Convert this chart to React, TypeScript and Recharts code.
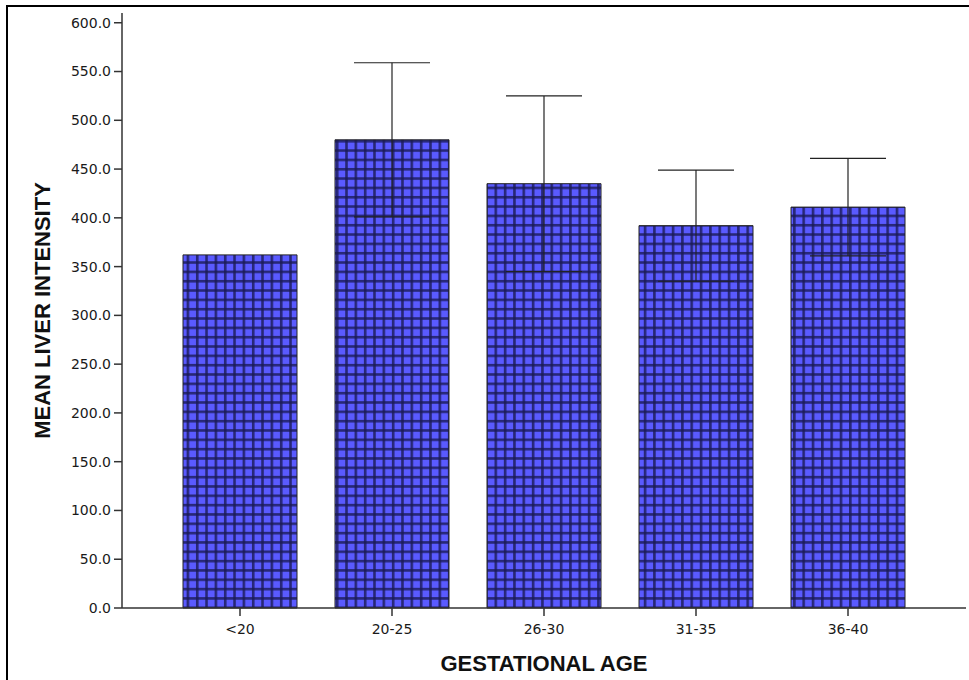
import { Bar, BarChart, ErrorBar, XAxis, YAxis, Label } from "recharts";

const ageGroups = ["<20", "20-25", "26-30", "31-35", "36-40"];
const meanIntensity = [362, 480, 435, 392, 411];
const errorRange: (number | null)[] = [null, 79, 90, 57, 50];
const yTicks = [0, 50, 100, 150, 200, 250, 300, 350, 400, 450, 500, 550, 600];

const chartData = ageGroups.map((group, i) => ({
  group,
  mean: meanIntensity[i],
  err: errorRange[i],
}));

const tickFont = { fontFamily: "'DejaVu Sans', sans-serif", fontSize: 14, fill: "#1a1a1a" };
const titleFont = "'Liberation Sans', Arial, sans-serif";

export default function App() {
  return (
    <div
      style={{
        position: "absolute",
        left: 0,
        top: 0,
        width: 969,
        height: 680,
        background: "#fff",
        overflow: "hidden",
      }}
    >
      <div
        style={{
          position: "absolute",
          left: 6,
          top: 5,
          width: 1000,
          height: 700,
          borderLeft: "2px solid #000",
          borderTop: "2px solid #000",
        }}
      />
      <div style={{ position: "absolute", left: 0, top: 0 }}>
        <BarChart
          width={969}
          height={680}
          data={chartData}
          margin={{ top: 13, right: 3, bottom: 0, left: 0 }}
          barCategoryGap={19}
        >
          <defs>
            <pattern id="checkFill" patternUnits="userSpaceOnUse" width={9.33} height={9.33}>
              <rect width={9.33} height={9.33} fill="#5a5aff" />
              <rect x={0} y={0} width={2.6} height={9.33} fill="#1a1a55" opacity={0.8} />
              <rect x={0} y={0} width={9.33} height={2.6} fill="#1a1a55" opacity={0.8} />
            </pattern>
          </defs>
          <XAxis
            dataKey="group"
            height={72}
            padding={{ left: 42, right: 42 }}
            axisLine={{ stroke: "#333", strokeWidth: 1.5 }}
            tickLine={{ stroke: "#333", strokeWidth: 1.5 }}
            tickSize={8}
            tickMargin={8}
            tick={tickFont}
          >
            <Label
              content={({ viewBox }: any) => (
                <text
                  x={viewBox.x + viewBox.width / 2}
                  y={viewBox.y + 63}
                  textAnchor="middle"
                  fontFamily={titleFont}
                  fontWeight="bold"
                  fontSize={22}
                  fill="#111"
                >
                  GESTATIONAL AGE
                </text>
              )}
            />
          </XAxis>
          <XAxis
            xAxisId="top"
            dataKey="group"
            orientation="top"
            height={0}
            padding={{ left: 42, right: 42 }}
            tick={false}
            tickLine={false}
            axisLine={{ stroke: "#888", strokeWidth: 1.5 }}
          />
          <YAxis
            width={122}
            domain={[0, 610]}
            ticks={yTicks}
            interval={0}
            tickFormatter={(v: number) => v.toFixed(1)}
            axisLine={{ stroke: "#333", strokeWidth: 1.5 }}
            tickLine={{ stroke: "#333", strokeWidth: 1.5 }}
            tickSize={8}
            tickMargin={3}
            tick={tickFont}
          >
            <Label
              content={({ viewBox }: any) => {
                const cx = 42;
                const cy = viewBox.y + viewBox.height / 2;
                return (
                  <text
                    x={cx}
                    y={cy}
                    transform={`rotate(-90 ${cx} ${cy})`}
                    textAnchor="middle"
                    dominantBaseline="central"
                    fontFamily={titleFont}
                    fontWeight="bold"
                    fontSize={22}
                    fill="#111"
                  >
                    MEAN LIVER INTENSITY
                  </text>
                );
              }}
            />
          </YAxis>
          <YAxis
            yAxisId="right"
            orientation="right"
            width={0}
            domain={[0, 610]}
            tick={false}
            tickLine={false}
            axisLine={{ stroke: "#888", strokeWidth: 1.5 }}
          />
          <Bar
            dataKey="mean"
            fill="url(#checkFill)"
            stroke="#222"
            strokeWidth={1}
            isAnimationActive={false}
          >
            <ErrorBar
              dataKey="err"
              width={38}
              stroke="#222"
              strokeWidth={1.2}
              direction="y"
              isAnimationActive={false}
            />
          </Bar>
        </BarChart>
      </div>
    </div>
  );
}
